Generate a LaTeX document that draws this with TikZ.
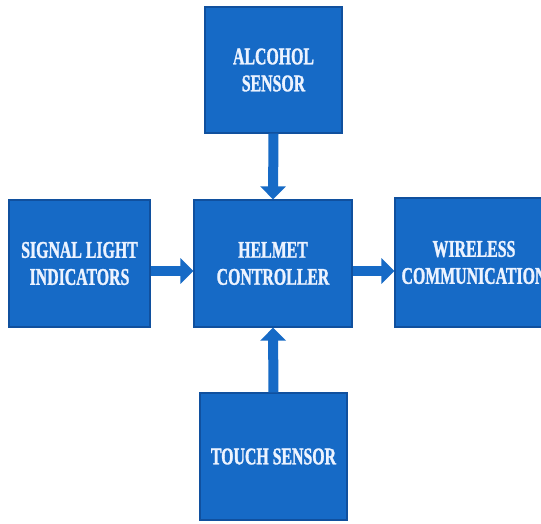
\documentclass[tikz,border=0pt]{standalone}
\usepackage{fontspec}
\usetikzlibrary{arrows.meta}
\newfontfamily\boxfont{Liberation Serif}[FakeStretch=0.66, BoldFont={Liberation Serif Bold}, BoldFeatures={FakeStretch=0.66, FakeBold=1.2}]
\definecolor{boxblue}{RGB}{22,106,198}
\definecolor{edgeblue}{RGB}{16,80,158}
\definecolor{txtwhite}{RGB}{236,243,255}
\tikzset{
  block/.style={draw=edgeblue, line width=1.2pt, fill=boxblue, text=txtwhite,
    align=center, inner sep=0pt,
    font=\boxfont\bfseries\fontsize{24}{27}\selectfont},
  flow/.style={draw=boxblue, line width=10pt,
    -{Triangle[width=25pt,length=13pt]}, shorten >=0pt}
}
\begin{document}
\begin{tikzpicture}[x=1pt,y=-1pt]
\useasboundingbox (0,0) rectangle (541,523);
\clip (0,0) rectangle (541,523);
\fill[white] (0,0) rectangle (541,523);
\node[block, minimum width=137pt, minimum height=126pt] (alc) at (273.5,70) {ALCOHOL\\SENSOR};
\node[block, minimum width=141pt, minimum height=127pt] (sig) at (79.5,263.5) {SIGNAL LIGHT\\INDICATORS};
\node[block, minimum width=158pt, minimum height=127pt] (hel) at (273,263.5) {HELMET\\CONTROLLER};
\node[block, minimum width=158pt, minimum height=129pt] (wir) at (474,262.5) {WIRELESS\\COMMUNICATION};
\node[block, minimum width=147pt, minimum height=127pt] (tch) at (273.5,456.5) {TOUCH SENSOR};
\draw[flow] (alc.south) -- (hel.north);
\draw[flow] ([yshift=-7.5pt]sig.east) -- ([yshift=-7.5pt]hel.west);
\draw[flow] ([yshift=-7.5pt]hel.east) -- ([yshift=-8.5pt]wir.west);
\draw[flow] (tch.north) -- (hel.south);
\end{tikzpicture}
\end{document}
